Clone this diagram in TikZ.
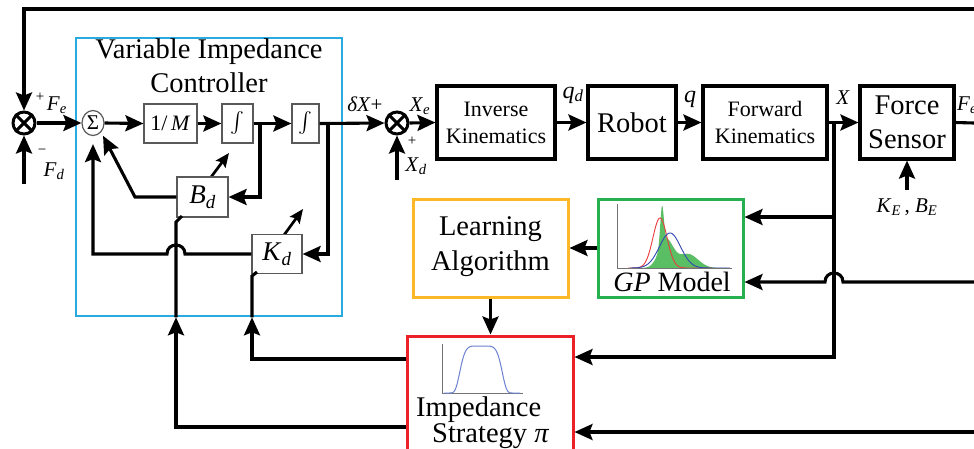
\documentclass[tikz,border=0pt]{standalone}
\usepackage{amsmath}
\usepackage{fontspec}
\setmainfont{Liberation Serif}
\usetikzlibrary{arrows.meta,shapes.geometric}
\definecolor{vicblue}{RGB}{41,171,226}
\definecolor{laorange}{RGB}{253,184,39}
\definecolor{gpgreen}{RGB}{38,176,80}
\definecolor{impred}{RGB}{236,32,39}
\definecolor{gpfill}{RGB}{90,190,100}
\definecolor{curvered}{RGB}{235,60,60}
\definecolor{curveblue}{RGB}{50,70,180}
\definecolor{bellblue}{RGB}{110,130,210}
\newcommand{\vv}[2]{\textit{#1}\textsubscript{\textit{#2}}}
\tikzset{
 conn/.style={line width=3.1pt},
 arr/.style={conn,-{Stealth[length=18pt,width=16pt,inset=3pt]}},
 varr/.style={line width=2.7pt,-{Stealth[length=14pt,width=12pt,inset=2.5pt]}},
 bigbox/.style={draw,line width=3.1pt,fill=white,inner sep=0pt,align=center},
 sbox/.style={draw=black!65,line width=1.2pt,fill=white,inner sep=0pt},
 lbl/.style={inner sep=0pt,font=\fontsize{21}{23}\selectfont},
 pls/.style={inner sep=0pt,font=\fontsize{15}{15}\selectfont},
 fbig/.style={inner sep=0pt,align=center,font=\fontsize{28.5}{35}\selectfont},
 fmid/.style={font=\fontsize{22}{27}\selectfont},
 axis/.style={draw=black!55,line width=0.8pt},
}
\begin{document}
\begin{tikzpicture}[x=1pt,y=-1pt]
\useasboundingbox (0,0) rectangle (974,448);
\clip (0,0) rectangle (974,448);
\fill[white] (0,0) rectangle (974,448);

% containers
\node[draw=vicblue,line width=2.6pt,minimum width=266pt,minimum height=278pt,inner sep=0pt] (vic) at (209,177) {};
\node[fbig,font=\fontsize{28.5}{34}\selectfont] (vict) at (209,66) {Variable Impedance\\Controller};
\node[draw=laorange,line width=3pt,minimum width=155pt,minimum height=98pt,inner sep=0pt] (la) at (490.5,248) {};
\node[fbig] (lat) at (490.5,247) {Learning\\Algorithm};
\node[draw=gpgreen,line width=3pt,minimum width=145pt,minimum height=98pt,inner sep=0pt] (gp) at (670.5,248) {};
\node[draw=impred,line width=3pt,minimum width=166pt,minimum height=140pt,inner sep=0pt] (imp) at (490,406) {};

% GP model plot
\fill[gpfill] plot[domain=638:728,samples=150] (\x,{268-38*exp(-min(20,((\x-662)/2.5)^2))-28*exp(-min(20,((\x-666)/10)^2))-14*exp(-min(20,((\x-688)/14)^2))}) -- cycle;
\draw[curvered,line width=0.9pt] plot[domain=628:712,samples=120] (\x,{268-50*exp(-min(20,((\x-660)/10)^2))});
\draw[curveblue,line width=0.9pt] plot[domain=630:730,samples=120] (\x,{268-35*exp(-min(20,((\x-670)/15)^2))});
\draw[axis] (617,204) -- (617,268) -- (732,268);
\node[inner sep=0pt,font=\fontsize{28}{30}\selectfont] (gpt) at (672,282) {\textit{GP} Model};

% impedance strategy plot
\draw[axis] (442,344) -- (442,393) -- (523,393);
\draw[bellblue,line width=1pt] plot[domain=444:520,samples=120] (\x,{393-47*exp(-min(20,((\x-481)/22)^6))});
\node[inner sep=0pt,align=left,font=\fontsize{28.5}{26}\selectfont,anchor=north west] (impt) at (416,397) {Impedance\\\hspace*{16pt}Strategy \textit{π}};

% variable-parameter arrows (under the blocks)
\draw[varr] (182,216) -- (229,153);
\draw[varr] (257,272) -- (303,209);

% controller blocks
\node[ellipse,draw=black!65,line width=1.2pt,minimum width=22pt,minimum height=25pt,inner sep=0pt,font=\fontsize{21}{21}\selectfont] (sig) at (93,123) {Σ};
\node[sbox,minimum width=53pt,minimum height=39pt,font=\fontsize{22}{22}\selectfont] (m) at (170.5,123.5) {1/\,\textit{M}};
\node[sbox,minimum width=31pt,minimum height=39pt,font=\fontsize{20}{20}\selectfont] (i1) at (237.5,123.5) {$\int$};
\node[sbox,minimum width=27pt,minimum height=39pt,font=\fontsize{20}{20}\selectfont] (i2) at (305.5,123.5) {$\int$};
\node[sbox,minimum width=51pt,minimum height=40pt,font=\fontsize{27}{27}\selectfont] (bd) at (202.5,197) {\vv{B}{d}};
\node[sbox,minimum width=50pt,minimum height=39pt,font=\fontsize{27}{27}\selectfont] (kd) at (277,254) {\vv{K}{d}};

% summing junctions
\node[circle,draw,line width=3pt,minimum size=22pt,inner sep=0pt] (s1) at (24,123) {};
\draw[line width=3pt] (s1.north west) -- (s1.south east) (s1.north east) -- (s1.south west);
\node[circle,draw,line width=3pt,minimum size=22pt,inner sep=0pt] (s2) at (397,123) {};
\draw[line width=3pt] (s2.north west) -- (s2.south east) (s2.north east) -- (s2.south west);

% top row blocks
\node[bigbox,fmid,minimum width=118pt,minimum height=73pt] (ik) at (496,122.5) {Inverse\\Kinematics};
\node[bigbox,minimum width=88pt,minimum height=73pt,font=\fontsize{28.5}{30}\selectfont] (rb) at (632,122.5) {Robot};
\node[bigbox,fmid,minimum width=124pt,minimum height=73pt] (fk) at (765,122.5) {Forward\\Kinematics};
\node[bigbox,minimum width=94pt,minimum height=73pt,font=\fontsize{28.5}{34}\selectfont] (fs) at (907,122.5) {Force\\Sensor};

% coordinates
\coordinate (topr) at (974,9);
\coordinate (fdin) at (24,184);
\coordinate (b1) at (260,123.5);
\coordinate (b2) at (328,123.5);
\coordinate (bdbend) at (135,197);
\coordinate (xdin) at (397,180);
\coordinate (fsout) at (974,123);
\coordinate (kbe) at (907,190);
\coordinate (xb) at (834,123);
\coordinate (xbot) at (834,357);
\coordinate (xgp) at (834,217);
\coordinate (rgp) at (974,282);
\coordinate (rimp) at (974,432);
\coordinate (kdin) at (252,359);
\coordinate (bdin) at (176,427);

% connectors: left part
\draw[arr] (topr) -- (topr -| s1) -- (s1.north);
\draw[arr] (fdin) -- (s1.south);
\draw[arr] (s1.east) -- (sig.west);
\draw[arr] (sig.east) -- (m.west);
\draw[arr] (m.east) -- (i1.west);
\draw[arr] (i1.east) -- (i2.west);
\draw[arr] (b1) |- (bd.east);
\draw[arr] (b2) |- (kd.east);
\draw[arr,shorten >=4pt] (bd.west) -- (bdbend) -- (sig.south east);
\draw[arr,shorten >=8pt] (kd.west) -- (185,254) .. controls (185,242) and (167,242) .. (167,254) -- (93,254) -- (sig.south);
\draw[arr] (i2.east) -- (s2.west);
\draw[arr] (xdin) -- (s2.south);

% impedance strategy outputs into the controller
\draw[arr] (kdin -| imp.west) -- (kdin) -- (kdin |- vic.south);
\draw[conn] (kdin |- vic.south) -- (252,276) -- (257,272);
\draw[arr] (bdin -| imp.west) -- (bdin) -- (bdin |- vic.south);
\draw[conn] (bdin |- vic.south) -- (176,222) -- (182,216);

% top row connectors
\draw[arr] (s2.east) -- (ik.west);
\draw[arr] (ik.east) -- (rb.west);
\draw[arr] (rb.east) -- (fk.west);
\draw[arr] (fk.east) -- (fs.west);
\draw[conn] (fs.east) -- (fsout);
\draw[arr] (kbe) -- (fs.south);

% feedback to learning part
\draw[arr] (xb) |- (imp.east |- xbot);
\draw[arr] (xgp) -- (xgp -| gp.east);
\draw[arr] (rgp) -- (843,282) .. controls (843,270) and (825,270) .. (825,282) -- (rgp -| gp.east);
\draw[arr] (rimp) -- (rimp -| imp.east);
\draw[arr] (gp.west) -- (la.east);
\draw[arr] (la.south) -- (la.south |- imp.north);

% labels
\node[pls] (p1) at (40,97) {+};
\node[lbl] (lfe) at (57,105) {\vv{F}{e}};
\node[pls] (m1) at (42,152) {−};
\node[lbl] (lfd) at (54,171) {\vv{F}{d}};
\node[lbl] (ldx) at (365,104) {\textit{δX}+};
\node[lbl] (lxe) at (420,106) {\vv{X}{e}};
\node[pls] (p2) at (412,141) {+};
\node[lbl] (lxd) at (416,166) {\vv{X}{d}};
\node[lbl,font=\fontsize{24}{26}\selectfont] (lqd) at (573,95) {\vv{q}{d}};
\node[lbl,font=\fontsize{24}{26}\selectfont] (lq) at (690,99) {\textit{q}};
\node[lbl] (lx) at (843,98) {\textit{X}};
\node[lbl,anchor=west] (lfe2) at (957,105) {\vv{F}{e}};
\node[lbl] (lkb) at (907,207) {\vv{K}{E}\,, \vv{B}{E}};
\end{tikzpicture}
\end{document}
